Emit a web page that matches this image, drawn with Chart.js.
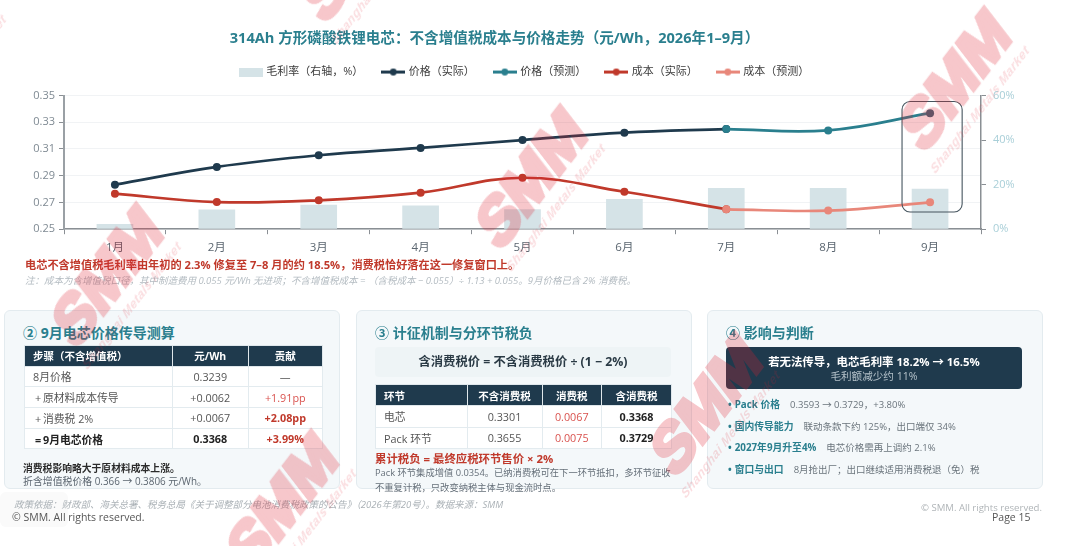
<!DOCTYPE html>
<html lang="zh"><head><meta charset="utf-8">
<script src="https://cdn.jsdelivr.net/npm/chart.js@4"></script>
<style>
html,body{margin:0;padding:0;background:#fff;width:1067px;height:546px;overflow:hidden;font-family:'Open Sans','Noto Sans CJK SC',sans-serif;}
#wrap{position:relative;width:1067px;height:546px;overflow:hidden;filter:blur(.3px);}
canvas#c{position:absolute;left:0;top:0;}
.abs{position:absolute;white-space:nowrap;line-height:1;}
.card{position:absolute;top:310px;height:177px;width:334px;background:#f4f8fa;border:1px solid #e3ebef;border-radius:6px;box-sizing:content-box;}
.h{position:absolute;font-weight:700;font-size:14px;color:#2a7f8e;white-space:nowrap;line-height:16px;top:325px;}
table{position:absolute;border-collapse:collapse;table-layout:fixed;font-size:10.8px;color:#555;background:#fff;}
th{background:#1f3a4d;color:#fff;font-weight:700;font-size:10.5px;border:1px solid #dfe7eb;padding:0;text-align:center;}
td{border:1px solid #e3ebef;padding:0;text-align:center;white-space:nowrap;}
.l{text-align:left;padding-left:8px;}
.b{font-weight:700;color:#222;}
.r{color:#d9534f;}
.rb{color:#c0392b;font-weight:700;}
.wm{position:absolute;width:0;height:0;transform:scaleX(.77) rotate(-45deg);color:#e02030;opacity:.25;pointer-events:none;white-space:nowrap;z-index:50;}
.wm b{position:absolute;left:-110px;width:220px;top:-25px;text-align:center;font:700 71px/50px 'Liberation Sans',sans-serif;-webkit-text-stroke:5px #e02030;letter-spacing:-.5px;}
.wm i{position:absolute;left:-108px;width:220px;top:35px;text-align:center;font:italic 700 14.5px/16px 'Liberation Sans',sans-serif;letter-spacing:.4px;opacity:.6;}
</style></head>
<body><div id="wrap">
<canvas id="c" width="1067" height="262"></canvas>
<div class="abs" style="left:25px;top:259px;font-size:11.2px;font-weight:700;color:#c0392b;">电芯不含增值税毛利率由年初的 2.3% 修复至 7–8 月的约 18.5%，消费税恰好落在这一修复窗口上。</div>
<div class="abs" style="left:25px;top:276px;font-size:9.5px;font-style:italic;color:#b3bbc1;">注：成本为含增值税口径，其中制造费用 0.055 元/Wh 无进项；不含增值税成本 = （含税成本 − 0.055）÷ 1.13 + 0.055。9月价格已含 2% 消费税。</div>

<div class="card" style="left:4px"></div>
<div class="card" style="left:356px"></div>
<div class="card" style="left:707px"></div>

<div class="h" style="left:23px">② 9月电芯价格传导测算</div>
<table id="t1" style="left:24px;top:345px;width:298px"></table>
<div class="abs" style="left:23px;top:464px;font-size:9.8px;font-weight:700;color:#2b2b2b;">消费税影响略大于原材料成本上涨。</div>
<div class="abs" style="left:23px;top:477px;font-size:9.9px;color:#5c6670;">折含增值税价格 0.366 → 0.3806 元/Wh。</div>

<div class="h" style="left:375px">③ 计征机制与分环节税负</div>
<div class="abs" style="left:375px;top:347px;width:296px;height:30px;line-height:30px;background:#eef4f6;border-radius:4px;text-align:center;font-size:12.3px;font-weight:700;color:#2a3a45;">含消费税价 = 不含消费税价 ÷ (1 − 2%)</div>
<table id="t2" style="left:375px;top:384px;width:296px"></table>
<div class="abs" style="left:375px;top:453px;font-size:11.4px;font-weight:700;color:#c0392b;">累计税负 = 最终应税环节售价 × 2%</div>
<div class="abs" style="left:375px;top:468px;font-size:9.3px;color:#66707a;">Pack 环节集成增值 0.0354。已纳消费税可在下一环节抵扣，多环节征收</div>
<div class="abs" style="left:375px;top:483px;font-size:9.3px;color:#66707a;">不重复计税，只改变纳税主体与现金流时点。</div>

<div class="h" style="left:726px">④ 影响与判断</div>
<div class="abs" style="left:726px;top:347px;width:296px;height:42px;background:#1f3a4d;border-radius:4px;text-align:center;">
  <div style="margin-top:8px;font-size:11.4px;font-weight:700;color:#fff;line-height:14px;">若无法传导，电芯毛利率 18.2% → 16.5%</div>
  <div style="margin-top:0px;font-size:10.6px;color:#b5c2ca;line-height:14px;">毛利额减少约 11%</div>
</div>
<div id="bul"></div>

<div class="abs" style="left:0;top:492px;width:68px;height:35px;background:#fafafa;border-radius:6px;"></div>
<div class="abs" style="left:14px;top:500px;font-size:9.5px;font-style:italic;color:#aab1b6;">政策依据：财政部、海关总署、税务总局《关于调整部分电池消费税政策的公告》（2026年第20号）。数据来源：SMM</div>
<div class="abs" style="left:12px;top:512px;font-size:10.5px;color:#555;">© SMM. All rights reserved.</div>
<div class="abs" style="right:25px;top:503px;font-size:9.6px;color:#b0b5b8;">© SMM. All rights reserved.</div>
<div class="abs" style="left:992px;top:512px;font-size:10.5px;color:#555;">Page 15</div>
</div>
<script>
// ---- chart data ----
const categories = ['1月','2月','3月','4月','5月','6月','7月','8月','9月'];
const marginPct   = [2.3, 8.8, 11.0, 10.6, 8.9, 13.5, 18.5, 18.5, 18.2];
const priceActual = [0.2833,0.2966,0.3053,0.3108,0.3167,0.3222,0.3249,null,null];
const priceFcst   = [null,null,null,null,null,null,0.3249,0.3239,0.3368];
const costActual  = [0.2766,0.2703,0.2716,0.2773,0.2885,0.2780,0.2649,null,null];
const costFcst    = [null,null,null,null,null,null,0.2649,0.2639,0.2701];
const leftTicks   = [0.25,0.27,0.29,0.31,0.33,0.35];
const rightTicks  = [0,20,40,60];
const seriesNames = ['毛利率（右轴，%）','价格（实际）','价格（预测）','成本（实际）','成本（预测）'];
const chartTitle  = '314Ah 方形磷酸铁锂电芯：不含增值税成本与价格走势（元/Wh，2026年1–9月）';
// highlighted forecast month, as data-space bounds
const hlIndex = 8, hlCenter = 8.02, hlHalfCat = 0.295, hlTop = 0.3455, hlBottom = 0.2629;

// ---- table contents ----
const t1Head = ['步骤（不含增值税）','元/Wh','贡献'];
const t1Rows = [['8月价格','0.3239','—'],['+\u2009原材料成本传导','+0.0062','+1.91pp'],['+\u2009消费税 2%','+0.0067','+2.08pp'],['=\u20099月电芯价格','0.3368','+3.99%']];
const t2Head = ['环节','不含消费税','消费税','含消费税'];
const t2Rows = [['电芯','0.3301','0.0067','0.3368'],['Pack 环节','0.3655','0.0075','0.3729']];
const bullets = [['Pack 价格','0.3593 → 0.3729，+3.80%'],['国内传导能力','联动条款下约 125%，出口端仅 34%'],['2027年9月升至4%','电芯价格需再上调约 2.1%'],['窗口与出口','8月抢出厂；出口继续适用消费税退（免）税']];

const FONT = "'Open Sans','Noto Sans CJK SC',sans-serif";
function cg(w){return '<colgroup>'+w.map(x=>`<col style="width:${x}px">`).join('')+'</colgroup>';}
document.getElementById('t1').innerHTML = cg([148,75.5,74.5]) +
 '<tr style="height:20.6px">'+t1Head.map((h,i)=>`<th${i==0?' class="l"':''}>${h}</th>`).join('')+'</tr>'+
 t1Rows.map((r,i)=>`<tr style="height:20.7px"><td class="l${i==3?' b':''}"${i>0?' style="padding-left:10px"':''}>${r[0]}</td><td class="${i==3?'b':''}">${r[1]}</td><td class="${i==0?'':(i==1?'r':'rb')}">${r[2]}</td></tr>`).join('');
document.getElementById('t2').innerHTML = cg([91.5,75,59.5,70]) +
 '<tr style="height:21px">'+t2Head.map((h,i)=>`<th${i==0?' class="l"':''}>${h}</th>`).join('')+'</tr>'+
 t2Rows.map(r=>`<tr style="height:21.5px"><td class="l">${r[0]}</td><td>${r[1]}</td><td class="r">${r[2]}</td><td class="b">${r[3]}</td></tr>`).join('');
document.getElementById('bul').innerHTML = bullets.map((b,i)=>
 `<div class="abs" style="left:728px;top:${[399,420.5,442,464][i]}px;font-size:9.5px;color:#6a747c;line-height:12px"><span style="color:#2a7f8e;font-weight:700;font-size:9.8px">•<span style="margin-left:3px">${b[0]}</span></span><span style="margin-left:10px">${b[1]}</span></div>`).join('');

// ---- watermark tiles ----
const wrap=document.getElementById('wrap');
for(let i=-1;i<4;i++)for(let j=-1;j<3;j++){
  const x=106.5+i*424+j*175, y=276-i*98+j*227;
  if(x<-150||x>1150||y<-120||y>650)continue;
  const d=document.createElement('div');d.className='wm';d.style.left=x+'px';d.style.top=y+'px';
  d.innerHTML='<b>SMM</b><i>Shanghai Metals Market</i>';wrap.appendChild(d);
}

// ---- legend swatches ----
function swatch(color,isBar){
  const c=document.createElement('canvas');c.width=24;c.height=9;const g=c.getContext('2d');
  if(isBar){g.fillStyle=color;g.fillRect(0,0,24,9);return c;}
  g.fillStyle=color;g.fillRect(0,3,24,3);g.beginPath();g.arc(12,4.5,3.4,0,7);g.fill();return c;
}
const colors=['#d5e3e7','#1f3a4d','#2a7f8e','#c0392b','#e8877a'];

const highlightBox={id:'highlightBox',
 afterLayout(ch){ch.legend.top-=8;ch.legend.left+=3;ch.titleBlock.left-=29;ch.titleBlock.right-=29;},
 afterDatasetsDraw(ch){
  const {x,y}=ch.scales,g=ch.ctx,step=x.getPixelForValue(1)-x.getPixelForValue(0);
  const cx=x.getPixelForValue(hlIndex)+(hlCenter-hlIndex)*step,l=cx-hlHalfCat*step,w=2*hlHalfCat*step,t=y.getPixelForValue(hlTop),h=y.getPixelForValue(hlBottom)-t;
  g.save();g.strokeStyle='#46555f';g.lineWidth=1.1;g.beginPath();g.roundRect(l,t,w,h,8);g.stroke();g.restore();
}};
function line(i,data,ord){return {type:'line',label:seriesNames[i],data,borderColor:colors[i],backgroundColor:colors[i],borderWidth:2.7,pointRadius:4,pointHoverRadius:4,pointBackgroundColor:colors[i],pointBorderWidth:0,tension:.4,cubicInterpolationMode:'default',spanGaps:false,yAxisID:'y',order:ord};}
const priceF=line(2,priceFcst,2);
priceF.pointBackgroundColor=priceFcst.map((v,i)=>i==hlIndex?'#3b6476':colors[2]);
new Chart(document.getElementById('c'),{
 data:{labels:categories,datasets:[
  {type:'bar',label:seriesNames[0],data:marginPct,backgroundColor:colors[0],yAxisID:'y2',order:9,barPercentage:.36,categoryPercentage:1},
  line(1,priceActual,4),priceF,line(3,costActual,3),line(4,costFcst,1)]},
 options:{responsive:false,animation:false,devicePixelRatio:1,
  layout:{padding:{left:20,right:40,top:30,bottom:0}},
  plugins:{
   title:{display:true,text:chartTitle,color:'#2a7f8e',font:{family:FONT,size:14.6,weight:'700'},padding:{top:0,bottom:7}},
   legend:{position:'top',labels:{color:'#444',font:{family:FONT,size:11},usePointStyle:true,pointStyleWidth:20,boxHeight:9,padding:20,
     generateLabels(ch){return ch.data.datasets.map((d,i)=>({text:d.label,pointStyle:swatch(colors[i],i==0),fontColor:'#3c3c3c',datasetIndex:i,lineWidth:0}));}}},
   tooltip:{enabled:false}},
  scales:{
   x:{offset:true,grid:{display:true,drawOnChartArea:false,drawTicks:true,tickLength:5,color:'#8a8f94',offset:true},border:{color:'#8a8f94',width:1.5},ticks:{color:'#5b6670',font:{family:FONT,size:11.5},padding:7,maxRotation:0}},
   y:{min:0.25,max:0.35,afterBuildTicks(s){s.ticks=leftTicks.map(v=>({value:v}));},afterFit(s){s.width=44;},grid:{color:'#f1f3f5',lineWidth:1,tickLength:5,tickColor:'#8a8f94',drawTicks:true},border:{color:'#9aa0a5',width:2},ticks:{color:'#7f8a93',font:{family:FONT,size:11},padding:4,callback:v=>v.toFixed(2)}},
   y2:{position:'right',min:0,max:60,afterBuildTicks(s){s.ticks=rightTicks.map(v=>({value:v}));},afterFit(s){s.width=46;},grid:{drawOnChartArea:false,tickLength:5,tickColor:'#8a8f94'},border:{color:'#8a8f94',width:1.5},ticks:{color:'#a9cfd8',font:{family:FONT,size:11},padding:7,callback:v=>v+'%'}}
  }},
 plugins:[highlightBox]
});
</script>
</body></html>
